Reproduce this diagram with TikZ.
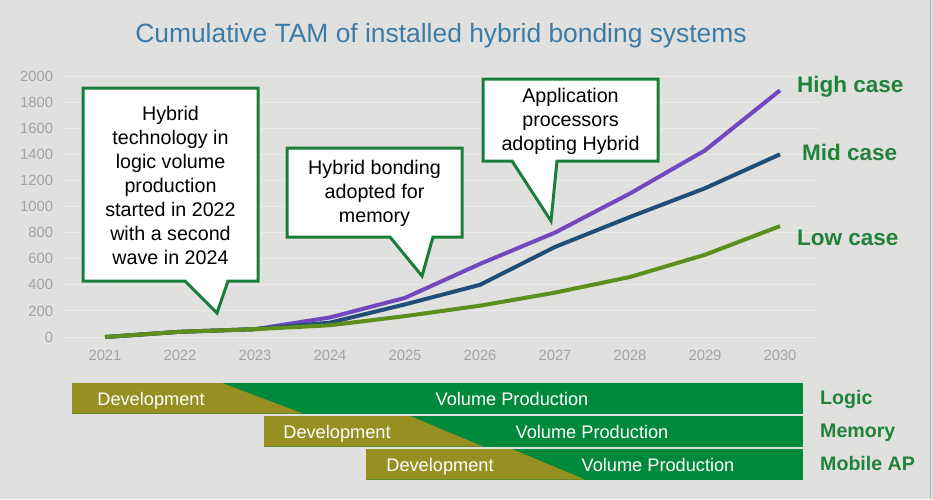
\documentclass[tikz,border=0pt]{standalone}
\usepackage{fontspec}
\setmainfont{Liberation Sans}
\definecolor{bggray}{HTML}{E0E0DE}
\definecolor{gridgray}{HTML}{EAEAE8}
\definecolor{ticgray}{HTML}{A3A3A3}
\definecolor{titleblue}{HTML}{3B7CA6}
\definecolor{boxgreen}{HTML}{1A7D3C}
\definecolor{casegreen}{HTML}{21823A}
\definecolor{volgreen}{HTML}{00893A}
\definecolor{devolive}{HTML}{978F22}
\definecolor{highpurple}{HTML}{7048C0}
\definecolor{midblue}{HTML}{1F4E79}
\definecolor{lowgreen}{HTML}{5E8E1C}

\begin{document}
\begin{tikzpicture}[x=1pt,y=-1pt]
\tikzset{callout/.style = {draw=boxgreen, line width=3pt, fill=white}}
\tikzset{calltext/.style = {align=center, inner sep=0pt, font=\fontsize{19.7}{24}\selectfont}}
\tikzset{axislabel/.style = {inner sep=0pt, text=ticgray, font=\fontsize{14.8}{16}\selectfont}}
\tikzset{gridline/.style = {gridgray, line width=1pt}}
\tikzset{caseline/.style = {line width=4pt, line join=round}}
\tikzset{caselabel/.style = {anchor=base west, inner sep=0pt, text=casegreen, font=\bfseries\fontsize{22.5}{26}\selectfont}}
\tikzset{bartext/.style = {anchor=base, inner sep=0pt, text=white, font=\fontsize{18.2}{20}\selectfont}}
\tikzset{rowlabel/.style = {anchor=base west, inner sep=0pt, text=casegreen, font=\bfseries\fontsize{19.6}{22}\selectfont}}

\fill[bggray] (0,0) rectangle (933,499);
\useasboundingbox (0,0) rectangle (933,499);
\draw[gray!60, line width=1pt] (930.5,0) -- (930.5,499);

\node[anchor=base, inner sep=0pt, text=titleblue, font=\fontsize{26.4}{30}\selectfont] (title) at (441,42)
  {Cumulative TAM of installed hybrid bonding systems};

% chart: x in years after 2021, y in units
\begin{scope}[shift={(105,337)}, x=75pt, y=0.1305pt]
\foreach \v in {0,200,...,2000}
  {\draw[gridline] (-0.56,\v) -- (9.53,\v);
   \node[axislabel, anchor=east] (tick\v) at (-0.69,\v) {\v};}

\foreach \yr [count=\i from 0] in {2021,...,2030}
  {\node[axislabel] (year\yr) at (\i,-138) {\yr};}

\draw[caseline, highpurple] plot coordinates {(0,0) (1,40) (2,60) (3,150) (4,300) (5,560) (6,800) (7,1100) (8,1430) (9,1890)};
\draw[caseline, midblue] plot coordinates {(0,0) (1,40) (2,60) (3,110) (4,250) (5,400) (6,690) (7,920) (8,1140) (9,1400)};
\draw[caseline, lowgreen] plot coordinates {(0,0) (1,40) (2,60) (3,90) (4,160) (5,240) (6,340) (7,460) (8,630) (9,850)};
\end{scope}

\node[caselabel] (high) at (797,92) {High case};
\node[caselabel] (mid) at (802,160) {Mid case};
\node[caselabel] (low) at (797,245) {Low case};

% callouts
\draw[callout] (83,88) -- (258,88) -- (258,281) -- (228,281) -- (217,313) -- (185,281) -- (83,281) -- cycle;
\node[calltext] (logicnote) at (170.5,185) {Hybrid\\technology in\\logic volume\\production\\started in 2022\\with a second\\wave in 2024};

\draw[callout] (287,148) -- (462,148) -- (462,237) -- (433,237) -- (422,276) -- (390,237) -- (287,237) -- cycle;
\node[calltext] (memnote) at (374.5,193) {Hybrid bonding\\adopted for\\memory};

\draw[callout] (483,79) -- (658,79) -- (658,161) -- (557,161) -- (551,221) -- (512,161) -- (483,161) -- cycle;
\node[calltext] (apnote) at (570.5,121) {Application\\processors\\adopting Hybrid};

% roadmap bars
\foreach \l/\t/\a/\b/\dx/\vx/\lab [count=\r] in {72/383/222/303/151/512/Logic, 264/416/410/483/337/592/Memory, 366/449/512/585/440/658/Mobile AP}
{
  \fill[volgreen] (\l,\t) rectangle (803,\t+30.5);
  \fill[devolive] (\l,\t) -- (\a,\t) -- (\b,\t+30.5) -- (\l,\t+30.5) -- cycle;
  \node[bartext] (dev\r) at (\dx,\t+22) {Development};
  \node[bartext] (vol\r) at (\vx,\t+22) {Volume Production};
  \node[rowlabel] (row\r) at (820,\t+21.5) {\lab};
}
\end{tikzpicture}
\end{document}
